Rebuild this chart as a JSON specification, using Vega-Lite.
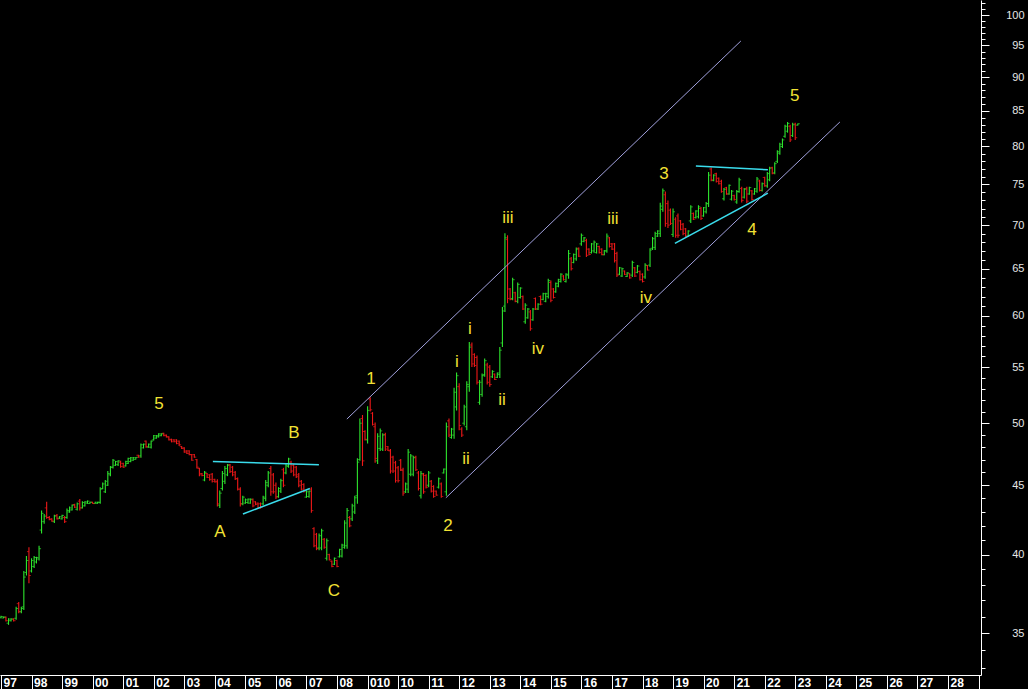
{
  "$schema": "https://vega.github.io/schema/vega-lite/v6.json",
  "width": 981,
  "height": 675,
  "padding": {"left": 0, "top": 0, "right": 47, "bottom": 14},
  "autosize": {"type": "none"},
  "background": "#000000",
  "config": {"view": {"stroke": null}},
  "datasets": {
    "bars": "t,o,h,l,c\n1997-01,35.93,36.05,35.9,36.0\n1997-02,35.92,36.0,35.9,35.98\n1997-03,35.95,36.0,35.7,35.75\n1997-04,35.6,35.9,35.5,35.85\n1997-05,35.75,35.9,35.7,35.85\n1997-06,35.85,35.9,35.7,35.75\n1997-07,35.9,36.6,35.8,36.5\n1997-08,36.8,36.9,36.2,36.3\n1997-09,36.3,36.6,36.2,36.5\n1997-10,36.6,38.9,36.4,38.5\n1997-11,38.8,39.9,38.6,39.6\n1997-12,40.2,40.5,38.1,38.6\n1998-01,38.9,39.75,38.8,39.6\n1998-02,39.2,39.9,39.1,39.8\n1998-03,39.5,39.85,39.4,39.8\n1998-04,39.7,40.6,39.6,40.4\n1998-05,41.7,43.1,41.45,42.9\n1998-06,42.3,42.85,42.15,42.7\n1998-07,43.3,43.75,42.5,42.6\n1998-08,42.6,42.7,42.4,42.45\n1998-09,42.5,42.55,42.3,42.35\n1998-10,42.3,42.8,42.2,42.7\n1998-11,42.75,42.85,42.45,42.5\n1998-12,42.55,42.7,42.5,42.65\n1999-01,42.5,42.8,42.45,42.75\n1999-02,42.6,42.7,42.2,42.3\n1999-03,42.6,43.25,42.5,43.1\n1999-04,43.0,43.4,42.95,43.3\n1999-05,43.15,43.55,43.1,43.5\n1999-06,43.55,43.6,43.3,43.35\n1999-07,43.2,43.7,43.1,43.6\n1999-08,43.8,43.95,43.1,43.3\n1999-09,43.3,43.8,43.25,43.7\n1999-10,43.45,43.8,43.4,43.75\n1999-11,43.65,43.85,43.6,43.8\n1999-12,43.62,43.75,43.6,43.72\n2000-01,43.72,43.75,43.6,43.62\n2000-02,43.62,43.75,43.6,43.72\n2000-03,43.63,43.75,43.6,43.73\n2000-04,43.7,44.85,43.6,44.7\n2000-05,44.75,45.2,44.7,45.1\n2000-06,44.5,45.4,44.4,45.3\n2000-07,45.0,46.1,44.95,45.9\n2000-08,45.8,46.5,45.7,46.4\n2000-09,46.4,47.05,46.3,46.95\n2000-10,46.55,46.9,46.5,46.85\n2000-11,46.6,46.95,46.5,46.9\n2000-12,46.8,46.9,46.35,46.45\n2001-01,46.7,46.75,46.35,46.4\n2001-02,46.5,46.9,46.45,46.85\n2001-03,46.7,47.15,46.65,47.1\n2001-04,46.85,47.2,46.8,47.15\n2001-05,46.95,47.2,46.9,47.15\n2001-06,47.02,47.2,47.0,47.18\n2001-07,47.35,47.4,47.15,47.2\n2001-08,47.3,48.3,47.15,48.2\n2001-09,47.95,48.3,47.9,48.25\n2001-10,48.5,48.55,47.95,48.05\n2001-11,48.0,48.3,47.95,48.25\n2001-12,48.0,48.55,47.9,48.5\n2002-01,48.6,49.0,48.55,48.95\n2002-02,48.75,49.0,48.7,48.95\n2002-03,48.85,49.15,48.8,49.1\n2002-04,48.95,49.15,48.9,49.1\n2002-05,49.15,49.2,48.9,48.95\n2002-06,49.0,49.05,48.8,48.85\n2002-07,48.85,48.9,48.55,48.6\n2002-08,48.65,48.7,48.4,48.45\n2002-09,48.6,48.65,48.4,48.45\n2002-10,48.6,48.65,48.25,48.3\n2002-11,48.5,48.55,48.1,48.2\n2002-12,48.05,48.1,47.85,47.9\n2003-01,47.95,48.0,47.55,47.6\n2003-02,47.7,47.75,47.45,47.5\n2003-03,47.7,47.75,47.35,47.4\n2003-04,47.4,47.45,46.9,46.95\n2003-05,47.4,47.45,47.15,47.2\n2003-06,47.0,47.05,46.3,46.4\n2003-07,46.3,46.35,45.7,45.8\n2003-08,45.9,45.95,45.7,45.75\n2003-09,45.4,46.1,45.3,46.0\n2003-10,45.9,45.95,45.55,45.6\n2003-11,45.8,45.85,45.35,45.45\n2003-12,45.85,45.95,45.2,45.3\n2004-01,45.45,45.5,45.2,45.25\n2004-02,45.3,45.45,43.4,43.6\n2004-03,43.5,44.6,43.3,44.4\n2004-04,44.75,46.1,44.6,45.9\n2004-05,45.3,46.5,45.1,46.3\n2004-06,45.8,46.65,45.7,46.55\n2004-07,46.6,46.65,45.95,46.05\n2004-08,46.4,46.5,45.7,45.8\n2004-09,46.0,46.1,45.4,45.5\n2004-10,45.5,45.6,44.6,44.7\n2004-11,44.7,44.85,43.4,43.6\n2004-12,43.6,44.2,43.5,44.1\n2005-01,43.65,44.0,43.6,43.9\n2005-02,43.7,44.0,43.6,43.95\n2005-03,43.65,44.0,43.6,43.95\n2005-04,43.9,44.0,43.35,43.45\n2005-05,43.75,43.8,43.5,43.55\n2005-06,43.65,43.7,43.25,43.3\n2005-07,43.6,43.7,43.25,43.35\n2005-08,43.6,44.2,43.5,44.1\n2005-09,44.0,45.4,43.8,45.2\n2005-10,45.0,46.1,44.85,45.95\n2005-11,46.3,46.5,44.2,44.5\n2005-12,45.8,45.95,44.35,44.5\n2006-01,45.0,45.2,43.95,44.1\n2006-02,44.15,44.85,44.05,44.75\n2006-03,44.55,45.5,44.4,45.35\n2006-04,46.2,46.35,44.85,45.0\n2006-05,45.95,46.65,45.85,46.55\n2006-06,46.45,47.15,46.35,47.05\n2006-07,46.8,46.9,45.95,46.1\n2006-08,46.55,46.65,45.7,45.8\n2006-09,46.4,46.5,45.55,45.65\n2006-10,45.8,45.95,44.85,45.0\n2006-11,45.3,45.4,44.6,44.7\n2006-12,45.05,45.15,44.45,44.55\n2007-01,44.1,44.6,44.05,44.5\n2007-02,44.15,44.6,44.05,44.55\n2007-03,44.7,44.85,42.95,43.1\n2007-04,41.8,41.9,40.5,40.6\n2007-05,41.4,41.5,40.3,40.4\n2007-06,40.45,41.45,40.3,41.3\n2007-07,40.45,41.8,40.3,41.65\n2007-08,41.05,41.15,40.4,40.5\n2007-09,39.75,41.1,39.6,40.95\n2007-10,40.0,40.05,39.6,39.65\n2007-11,39.55,39.6,39.15,39.2\n2007-12,39.35,39.8,39.3,39.75\n2008-01,39.6,39.65,39.15,39.2\n2008-02,39.85,40.4,39.8,40.35\n2008-03,39.9,40.75,39.8,40.65\n2008-04,40.5,42.4,40.4,42.2\n2008-05,40.6,43.3,40.4,43.1\n2008-06,42.6,42.7,41.9,42.0\n2008-07,42.5,43.6,42.35,43.45\n2008-08,43.0,44.2,42.85,44.05\n2008-09,44.2,47.1,43.6,46.8\n2008-10,47.0,50.4,46.9,50.0\n2008-11,50.4,50.7,46.5,46.9\n2008-12,49.3,49.4,48.55,48.65\n2009-01,48.6,51.45,48.3,51.1\n2009-02,52.1,52.25,51.0,51.15\n2009-03,50.85,50.95,49.8,49.9\n2009-04,49.7,50.05,46.75,47.1\n2009-05,46.9,49.15,46.65,48.9\n2009-06,47.9,49.55,47.7,49.35\n2009-07,47.85,49.15,47.7,49.0\n2009-08,49.05,49.2,47.7,47.85\n2009-09,48.05,48.1,47.7,47.75\n2009-10,47.7,47.85,45.9,46.1\n2009-11,47.2,47.3,45.95,46.1\n2009-12,46.75,46.9,45.2,45.35\n2010-01,46.35,46.5,45.2,45.35\n2010-02,46.95,47.05,46.1,46.2\n2010-03,46.15,46.35,44.2,44.4\n2010-04,44.5,45.2,44.4,45.1\n2010-05,44.7,47.85,44.4,47.6\n2010-06,45.85,47.45,45.7,47.3\n2010-07,45.85,47.3,45.7,47.15\n2010-08,47.2,47.3,46.1,46.2\n2010-09,45.95,46.1,44.6,44.75\n2010-10,44.2,46.1,44.0,45.9\n2010-11,45.8,45.95,44.35,44.5\n2010-12,45.75,45.85,44.75,44.85\n2011-01,45.0,46.1,44.85,45.95\n2011-02,45.3,45.4,44.45,44.55\n2011-03,44.9,45.0,44.05,44.15\n2011-04,44.55,44.6,44.2,44.25\n2011-05,44.85,45.6,44.75,45.5\n2011-06,45.1,45.2,44.05,44.15\n2011-07,45.95,46.3,45.9,46.25\n2011-08,44.5,50.05,44.2,49.7\n2011-09,50.2,50.4,48.85,49.0\n2011-10,48.8,49.6,48.7,49.5\n2011-11,49.0,53.1,48.7,52.7\n2011-12,51.4,54.5,51.1,54.2\n2012-01,53.2,53.5,49.4,49.8\n2012-02,49.5,49.65,48.85,49.0\n2012-03,50.0,51.6,49.8,51.4\n2012-04,49.7,53.7,49.4,53.4\n2012-05,53.2,57.4,52.75,56.9\n2012-06,57.1,57.35,55.0,55.3\n2012-07,56.2,56.3,55.0,55.15\n2012-08,55.9,56.1,53.4,53.6\n2012-09,51.8,53.8,51.6,53.6\n2012-10,52.5,54.4,52.3,54.2\n2012-11,54.3,55.8,54.1,55.6\n2012-12,55.2,55.4,53.4,53.6\n2013-01,55.0,55.2,53.2,53.4\n2013-02,54.1,54.7,54.0,54.6\n2013-03,54.35,54.4,53.8,53.85\n2013-04,54.05,54.5,54.0,54.45\n2013-05,54.3,56.9,54.0,56.6\n2013-06,57.3,60.9,56.9,60.5\n2013-07,61.0,69.05,60.4,68.5\n2013-08,68.3,68.8,61.3,61.8\n2013-09,62.8,62.9,61.6,61.7\n2013-10,61.8,64.0,61.6,63.8\n2013-11,62.4,62.5,61.4,61.5\n2013-12,61.5,63.5,61.3,63.3\n2014-01,61.9,63.0,61.8,62.9\n2014-02,62.0,62.1,60.6,60.7\n2014-03,59.4,61.3,59.2,61.1\n2014-04,59.8,60.8,59.7,60.7\n2014-05,60.4,60.6,58.5,58.7\n2014-06,59.6,60.8,59.5,60.7\n2014-07,61.8,61.9,60.6,60.7\n2014-08,60.7,61.3,60.6,61.2\n2014-09,62.0,62.1,61.1,61.2\n2014-10,61.7,62.4,61.6,62.3\n2014-11,61.5,62.4,61.4,62.3\n2014-12,62.0,63.9,61.8,63.7\n2015-01,63.5,63.7,61.4,61.6\n2015-02,62.8,62.9,61.8,61.9\n2015-03,62.5,63.5,62.4,63.4\n2015-04,63.1,63.9,63.0,63.8\n2015-05,63.6,64.5,63.5,64.4\n2015-06,64.2,64.3,63.7,63.8\n2015-07,63.6,64.5,63.5,64.4\n2015-08,64.3,67.1,63.9,66.7\n2015-09,66.1,66.3,64.8,65.0\n2015-10,65.7,66.7,65.6,66.6\n2015-11,66.1,67.4,65.9,67.2\n2015-12,67.3,67.4,66.3,66.4\n2016-01,67.8,69.0,67.6,68.8\n2016-02,68.1,68.6,68.0,68.5\n2016-03,68.2,68.4,66.3,66.5\n2016-04,67.2,67.3,66.5,66.6\n2016-05,66.8,67.9,66.7,67.8\n2016-06,67.0,68.2,66.8,68.0\n2016-07,66.8,67.9,66.7,67.8\n2016-08,67.5,67.6,66.7,66.8\n2016-09,67.2,67.3,66.5,66.6\n2016-10,66.55,67.1,66.5,67.0\n2016-11,67.0,69.0,66.8,68.7\n2016-12,68.5,68.6,67.4,67.5\n2017-01,67.8,67.9,67.1,67.2\n2017-02,67.8,67.9,65.7,65.9\n2017-03,66.7,66.9,64.1,64.3\n2017-04,64.4,65.2,64.3,65.1\n2017-05,64.2,65.1,64.1,65.0\n2017-06,64.75,64.8,64.3,64.35\n2017-07,64.15,64.6,64.1,64.55\n2017-08,64.45,64.5,63.9,64.0\n2017-09,64.3,65.9,64.1,65.7\n2017-10,65.1,65.2,64.1,64.2\n2017-11,64.6,65.4,64.5,65.3\n2017-12,64.7,64.8,63.7,63.8\n2018-01,64.4,64.5,63.5,63.6\n2018-02,64.1,65.6,63.9,65.4\n2018-03,65.35,65.4,64.8,64.85\n2018-04,65.4,67.3,65.2,67.1\n2018-05,67.3,68.6,67.1,68.4\n2018-06,67.4,69.2,67.1,69.0\n2018-07,68.7,69.4,68.6,69.3\n2018-08,69.0,72.7,68.6,72.3\n2018-09,71.9,74.5,71.6,74.2\n2018-10,73.7,74.1,69.8,70.2\n2018-11,72.6,73.0,69.65,70.0\n2018-12,71.8,72.0,70.0,70.2\n2019-01,68.9,72.0,68.6,71.6\n2019-02,70.7,70.95,68.5,68.8\n2019-03,71.1,71.4,68.5,68.8\n2019-04,70.5,70.6,69.4,69.5\n2019-05,70.1,70.25,68.8,69.0\n2019-06,69.55,69.65,68.6,68.7\n2019-07,68.7,69.4,68.6,69.3\n2019-08,70.5,72.4,70.25,72.2\n2019-09,71.4,71.5,70.6,70.7\n2019-10,70.9,71.8,70.8,71.7\n2019-11,71.0,72.4,70.8,72.2\n2019-12,72.0,72.2,70.6,70.8\n2020-01,71.1,72.2,71.0,72.1\n2020-02,71.6,72.8,71.4,72.6\n2020-03,72.6,76.6,72.2,76.2\n2020-04,77.0,77.2,75.4,75.6\n2020-05,75.5,76.3,75.4,76.2\n2020-06,76.4,76.5,75.25,75.4\n2020-07,75.8,75.9,75.0,75.1\n2020-08,75.4,75.6,73.95,74.1\n2020-09,73.2,74.55,73.0,74.4\n2020-10,74.6,74.7,73.7,73.8\n2020-11,73.8,75.0,73.7,74.9\n2020-12,73.15,74.3,73.0,74.15\n2021-01,73.6,73.7,73.0,73.1\n2021-02,72.8,74.3,72.6,74.1\n2021-03,74.1,75.85,73.95,75.6\n2021-04,74.5,74.7,72.75,73.0\n2021-05,73.4,74.55,73.25,74.4\n2021-06,74.5,74.7,72.65,72.9\n2021-07,73.8,74.7,73.7,74.6\n2021-08,74.2,74.3,73.0,73.1\n2021-09,73.8,74.55,73.7,74.45\n2021-10,74.15,75.95,73.95,75.7\n2021-11,75.45,75.6,74.1,74.25\n2021-12,74.25,75.25,74.1,75.1\n2022-01,75.9,76.0,74.7,74.85\n2022-02,74.8,76.6,74.6,76.4\n2022-03,75.6,77.3,75.4,77.1\n2022-04,77.2,77.3,76.3,76.4\n2022-05,76.5,77.9,76.3,77.7\n2022-06,78.0,79.5,77.8,79.3\n2022-07,79.1,80.5,78.9,80.3\n2022-08,80.0,81.1,79.8,80.9\n2022-09,81.4,83.0,81.2,82.8\n2022-10,82.1,83.4,81.9,83.2\n2022-11,82.8,83.0,80.6,80.9\n2022-12,81.5,83.3,81.3,83.0\n2023-01,83.1,83.3,80.9,81.2\n2023-02,82.95,83.2,82.9,83.15",
    "channel": [
      {"id": "u", "t": "2008-04-28", "p": 50.35},
      {"id": "u", "t": "2021-03-22", "p": 95.7},
      {"id": "d", "t": "2011-07-26", "p": 44.05},
      {"id": "d", "t": "2024-06-18", "p": 83.4}
    ],
    "triangles": [
      {"id": "a", "t": "2003-12-09", "p": 46.85},
      {"id": "a", "t": "2007-05-30", "p": 46.6},
      {"id": "b", "t": "2004-12-03", "p": 42.85},
      {"id": "b", "t": "2007-02-11", "p": 44.75},
      {"id": "c", "t": "2019-10-01", "p": 77.4},
      {"id": "c", "t": "2022-02-08", "p": 76.9},
      {"id": "e", "t": "2019-01-23", "p": 67.85},
      {"id": "e", "t": "2022-02-08", "p": 73.9}
    ],
    "labels": [
      {"text": "5", "t": "2002-03-04", "p": 51.65},
      {"text": "B", "t": "2006-08-04", "p": 49.2},
      {"text": "A", "t": "2004-03-03", "p": 41.55},
      {"text": "C", "t": "2007-11-24", "p": 37.6},
      {"text": "1", "t": "2009-02-10", "p": 53.9},
      {"text": "2", "t": "2011-08-19", "p": 42.0},
      {"text": "i", "t": "2011-12-04", "p": 55.45},
      {"text": "ii", "t": "2012-03-22", "p": 47.05},
      {"text": "i", "t": "2012-05-09", "p": 58.7},
      {"text": "ii", "t": "2013-05-27", "p": 52.0},
      {"text": "iii", "t": "2013-08-06", "p": 70.85},
      {"text": "iv", "t": "2014-07-30", "p": 56.7},
      {"text": "iii", "t": "2017-01-12", "p": 70.7},
      {"text": "iv", "t": "2018-02-11", "p": 61.8},
      {"text": "3", "t": "2018-09-14", "p": 76.4},
      {"text": "4", "t": "2021-08-01", "p": 69.4},
      {"text": "5", "t": "2022-12-27", "p": 87.1}
    ]
  },
  "layer": [
    {
      "data": {"name": "bars", "format": {"type": "csv", "parse": {"t": "date", "o": "number", "h": "number", "l": "number", "c": "number"}}},
      "mark": {"type": "rule", "strokeWidth": 1.1},
      "encoding": {
        "x": {
          "field": "t", "type": "temporal", "title": null,
          "scale": {"domain": [{"year": 1996, "month": 12, "date": 20}, {"year": 2029, "month": 1, "date": 30}], "nice": false},
          "axis": {
            "values": [{"year": 1997}, {"year": 1998}, {"year": 1999}, {"year": 2000}, {"year": 2001}, {"year": 2002}, {"year": 2003}, {"year": 2004}, {"year": 2005}, {"year": 2006}, {"year": 2007}, {"year": 2008}, {"year": 2009}, {"year": 2010}, {"year": 2011}, {"year": 2012}, {"year": 2013}, {"year": 2014}, {"year": 2015}, {"year": 2016}, {"year": 2017}, {"year": 2018}, {"year": 2019}, {"year": 2020}, {"year": 2021}, {"year": 2022}, {"year": 2023}, {"year": 2024}, {"year": 2025}, {"year": 2026}, {"year": 2027}, {"year": 2028}, {"year": 2029}],
            "tickCount": 200,
            "labelExpr": "year(datum.value) == 2009 ? '010' : (year(datum.value) == 2029 ? '' : timeFormat(datum.value, '%y'))",
            "tickSize": 14, "tickColor": "#ffffff", "tickWidth": 1,
            "domainColor": "#ffffff", "domainWidth": 1,
            "labelColor": "#ffffff", "labelFont": "Liberation Sans", "labelFontSize": 12, "labelFontWeight": "bold",
            "labelAlign": "left", "labelBaseline": "middle", "labelPadding": -7, "labelOffset": 2,
            "labelOverlap": false, "labelFlush": false, "labelBound": false, "grid": false
          }
        },
        "y": {
          "field": "l", "type": "quantitative", "title": null,
          "scale": {"type": "log", "domain": [32.6, 102.6], "nice": false, "zero": false},
          "axis": {
            "orient": "right",
            "values": [33, 34, 35, 36, 37, 38, 39, 40, 41, 42, 43, 44, 45, 46, 47, 48, 49, 50, 51, 52, 53, 54, 55, 56, 57, 58, 59, 60, 61, 62, 63, 64, 65, 66, 67, 68, 69, 70, 71, 72, 73, 74, 75, 76, 77, 78, 79, 80, 81, 82, 83, 84, 85, 86, 87, 88, 89, 90, 91, 92, 93, 94, 95, 96, 97, 98, 99, 100, 101, 102],
            "tickCount": 200,
            "labelExpr": "datum.value % 5 === 0 ? format(datum.value, 'd') : ''",
            "tickSize": {"condition": {"test": "datum.value % 5 === 0", "value": 8}, "value": 4},
            "tickColor": "#ffffff", "domainColor": "#ffffff",
            "labelColor": "#e6e6e6", "labelFont": "Liberation Sans", "labelFontSize": 11,
            "labelAlign": "right", "labelBaseline": "middle", "labelPadding": 35,
            "labelOverlap": false, "labelFlush": false, "labelBound": false, "grid": false
          }
        },
        "y2": {"field": "h"},
        "color": {"condition": {"test": "datum.c >= datum.o", "value": "#2ee62e"}, "value": "#f01818"}
      }
    },
    {
      "data": {"name": "bars", "format": {"type": "csv", "parse": {"t": "date", "o": "number", "h": "number", "l": "number", "c": "number"}}},
      "mark": {"type": "tick", "orient": "horizontal", "size": 2, "thickness": 1, "xOffset": -1},
      "encoding": {
        "x": {"field": "t", "type": "temporal", "title": null},
        "y": {"field": "o", "type": "quantitative", "title": null},
        "color": {"condition": {"test": "datum.c >= datum.o", "value": "#2ee62e"}, "value": "#f01818"}
      }
    },
    {
      "data": {"name": "bars", "format": {"type": "csv", "parse": {"t": "date", "o": "number", "h": "number", "l": "number", "c": "number"}}},
      "mark": {"type": "tick", "orient": "horizontal", "size": 2, "thickness": 1, "xOffset": 1},
      "encoding": {
        "x": {"field": "t", "type": "temporal", "title": null},
        "y": {"field": "c", "type": "quantitative", "title": null},
        "color": {"condition": {"test": "datum.c >= datum.o", "value": "#2ee62e"}, "value": "#f01818"}
      }
    },
    {
      "data": {"name": "channel"},
      "mark": {"type": "line", "strokeWidth": 1, "color": "#a0a0dc"},
      "encoding": {
        "x": {"field": "t", "type": "temporal", "title": null},
        "y": {"field": "p", "type": "quantitative", "title": null},
        "detail": {"field": "id"}
      }
    },
    {
      "data": {"name": "triangles"},
      "mark": {"type": "line", "strokeWidth": 1.5, "color": "#3adcec"},
      "encoding": {
        "x": {"field": "t", "type": "temporal", "title": null},
        "y": {"field": "p", "type": "quantitative", "title": null},
        "detail": {"field": "id"}
      }
    },
    {
      "data": {"name": "labels"},
      "mark": {"type": "text", "font": "Liberation Sans", "fontSize": 17, "color": "#f2e234", "align": "center", "baseline": "middle"},
      "encoding": {
        "x": {"field": "t", "type": "temporal", "title": null},
        "y": {"field": "p", "type": "quantitative", "title": null},
        "text": {"field": "text"}
      }
    }
  ]
}
